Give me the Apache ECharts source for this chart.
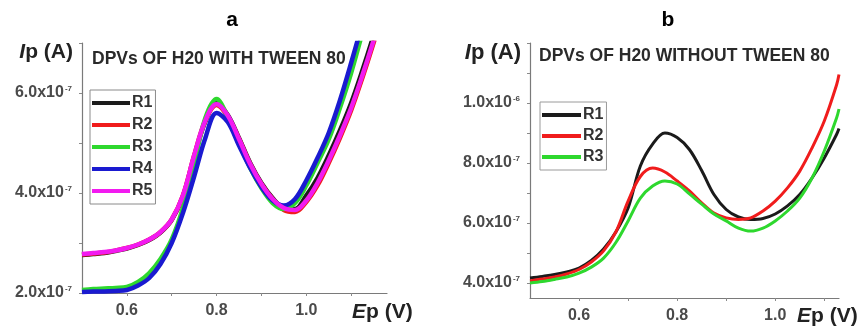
<!DOCTYPE html>
<html>
<head>
<meta charset="utf-8">
<script src="https://cdn.jsdelivr.net/npm/echarts@6/dist/echarts.min.js"></script>
<style>
html,body{margin:0;padding:0;background:#fff;}
#c{width:863px;height:327px;}
</style>
</head>
<body>
<div id="c"></div>
<script>
// ---------- Panel a: DPVs of H20 with Tween 80 (current in 1e-7 A) ----------
const xA = [0.5,0.525,0.55,0.575,0.6,0.625,0.65,0.675,0.7,0.725,0.75,0.775,0.8,0.825,0.85,0.875,0.9,0.925,0.95,0.975,1.0,1.025,1.05,1.075,1.1,1.125,1.15,1.175];
const aR1 = [2.76,2.78,2.80,2.84,2.89,2.96,3.06,3.21,3.46,3.93,4.72,5.43,5.80,5.56,5.10,4.60,4.20,3.90,3.70,3.68,3.95,4.30,4.75,5.25,5.80,6.45,7.15,7.90];
const aR2 = [2.77,2.79,2.81,2.85,2.90,2.97,3.07,3.22,3.47,3.95,4.75,5.45,5.76,5.53,5.08,4.58,4.18,3.88,3.66,3.62,3.82,4.15,4.60,5.10,5.65,6.30,7.00,7.75];
const aR3 = [2.06,2.08,2.09,2.10,2.12,2.22,2.40,2.68,3.07,3.70,4.58,5.50,5.88,5.52,5.00,4.50,4.10,3.80,3.68,3.80,4.15,4.60,5.07,5.70,6.40,7.20,8.00,8.90];
const aR4 = [2.02,2.03,2.03,2.04,2.06,2.15,2.30,2.58,3.00,3.60,4.33,5.10,5.60,5.42,4.95,4.50,4.12,3.85,3.75,3.88,4.25,4.70,5.20,5.85,6.60,7.40,8.30,9.20];
const aR5 = [2.78,2.80,2.82,2.85,2.90,2.97,3.07,3.22,3.47,3.95,4.75,5.45,5.78,5.55,5.08,4.58,4.18,3.88,3.70,3.66,3.85,4.20,4.65,5.15,5.70,6.35,7.05,7.80];
const namesA = ['R1','R2','R3','R4','R5'];

// ---------- Panel b: DPVs of H20 without Tween 80 (current in 1e-7 A) ----------
const xB = [0.5,0.525,0.55,0.575,0.6,0.625,0.65,0.675,0.7,0.725,0.75,0.775,0.8,0.825,0.85,0.875,0.9,0.925,0.95,0.975,1.0,1.025,1.05,1.075,1.1,1.125,1.13];
const bR1 = [4.17,4.22,4.28,4.37,4.50,4.75,5.13,5.70,6.50,7.90,8.63,9.00,8.85,8.45,7.75,6.95,6.45,6.20,6.12,6.15,6.30,6.57,6.95,7.50,8.17,8.95,9.15];
const bR2 = [4.07,4.13,4.20,4.30,4.45,4.70,5.07,5.70,6.73,7.55,7.83,7.70,7.40,7.07,6.67,6.33,6.17,6.12,6.17,6.40,6.73,7.17,7.73,8.50,9.40,10.60,10.95];
const bR3 = [4.00,4.05,4.12,4.20,4.33,4.53,4.83,5.35,6.07,6.83,7.23,7.40,7.30,6.97,6.63,6.30,6.07,5.83,5.73,5.83,6.07,6.40,6.83,7.50,8.40,9.50,9.80];
const namesB = ['R1','R2','R3'];

// ---------- Axis ticks and labels ----------
const xTickVals = [0.6,0.7,0.8,0.9,1.0,1.1];
const xLabelVals = [0.6,0.8,1.0];
const xLabelText = ['0.6','0.8','1.0'];
const yTickValsA = [2,3,4,5,6,7];
const yLabelValsA = [2,4,6];
const yLabelTextA = [['2.0x10','-7'],['4.0x10','-7'],['6.0x10','-7']];
const yTickValsB = [4,5,6,7,8,9,10,11,12];
const yLabelValsB = [4,6,8,10];
const yLabelTextB = [['4.0x10','-7'],['6.0x10','-7'],['8.0x10','-7'],['1.0x10','-6']];

const colorsA = ['#1b1b1b','#f01c1c','#2ed82e','#1a1ad0','#f21af0'];
const colorsB = ['#1b1b1b','#f01c1c','#2ed82e'];

const FONT = '"Liberation Sans", Arial, sans-serif';
const pair = (xs, ys) => xs.map((x, i) => [x, ys[i]]);

function yLabelFmt(vals, texts) {
  return function (v) {
    const i = vals.findIndex(t => Math.abs(t - v) < 1e-9);
    if (i < 0) return '';
    return '{m|' + texts[i][0] + '}{s|' + texts[i][1] + '}';
  };
}
function xLabelFmt(v) {
  const i = xLabelVals.findIndex(t => Math.abs(t - v) < 1e-9);
  return i < 0 ? '' : xLabelText[i];
}
const yRich = {
  m: {fontSize: 16, fontWeight: 'bold', color: '#4a4a4a', fontFamily: FONT},
  s: {fontSize: 8, fontWeight: 'bold', color: '#4a4a4a', fontFamily: FONT, verticalAlign: 'top', padding: [0,0,8,1]}
};
const axisLineStyle = {color: '#7a7a7a', width: 1.2};

function makeX(gridIndex, max, nameGap, padTop) {
  return {
    type: 'value', gridIndex, min: 0.5, max,
    name: '{i|E}{n|p (V)}', nameLocation: 'end', nameGap,
    nameTextStyle: {align: 'left', verticalAlign: 'top', padding: [padTop,0,0,0],
      rich: {i: {fontSize: 21, fontWeight: 'bold', fontStyle: 'italic', color: '#222', fontFamily: FONT},
             n: {fontSize: 21, fontWeight: 'bold', color: '#222', fontFamily: FONT}}},
    axisLine: {show: true, lineStyle: axisLineStyle},
    axisTick: {show: true, length: 3, customValues: xTickVals, lineStyle: {color: '#8a8a8a'}},
    axisLabel: {customValues: xLabelVals, formatter: xLabelFmt, margin: 10, fontSize: 16, fontWeight: 'bold', color: '#4a4a4a', fontFamily: FONT},
    splitLine: {show: false}
  };
}
function makeY(gridIndex, min, max, ticks, lvals, ltexts, nameGap, nameSize) {
  return {
    type: 'value', gridIndex, min, max,
    name: '{i|I}{n|p (A)}', nameLocation: 'end', nameGap,
    nameTextStyle: {align: 'right', verticalAlign: 'middle', padding: [0,9,0,0],
      rich: {i: {fontSize: nameSize, fontWeight: 'bold', fontStyle: 'italic', color: '#222', fontFamily: FONT},
             n: {fontSize: nameSize, fontWeight: 'bold', color: '#222', fontFamily: FONT}}},
    axisLine: {show: true, lineStyle: axisLineStyle},
    axisTick: {show: true, length: 3, customValues: ticks, lineStyle: {color: '#8a8a8a'}},
    axisLabel: {customValues: lvals, formatter: yLabelFmt(lvals, ltexts), margin: 10, rich: yRich},
    splitLine: {show: false}
  };
}

const seriesA = [aR1, aR2, aR3, aR4, aR5].map((d, i) => ({
  type: 'line', name: namesA[i], xAxisIndex: 0, yAxisIndex: 0,
  data: pair(xA, d), smooth: 0.35, showSymbol: false, symbol: 'none',
  lineStyle: {width: 4.5, color: colorsA[i]}, itemStyle: {color: colorsA[i]}, clip: true
}));
const seriesB = [bR1, bR2, bR3].map((d, i) => ({
  type: 'line', name: namesB[i], xAxisIndex: 1, yAxisIndex: 1,
  data: pair(xB, d), smooth: 0.35, showSymbol: false, symbol: 'none',
  lineStyle: {width: 3, color: colorsB[i]}, itemStyle: {color: colorsB[i]}, clip: true
}));

const chart = echarts.init(document.getElementById('c'), null, {renderer: 'canvas'});
chart.setOption({
  animation: false,
  backgroundColor: '#fff',
  title: [
    {text: 'a', left: 232, top: 10, padding: 0, textAlign: 'center', textStyle: {fontSize: 21, fontWeight: 'bold', color: '#000', fontFamily: FONT}},
    {text: 'b', left: 668, top: 10, padding: 0, textAlign: 'center', textStyle: {fontSize: 21, fontWeight: 'bold', color: '#000', fontFamily: FONT}},
    {text: 'DPVs OF H20 WITH TWEEN 80', left: 92, top: 50, padding: 0, textStyle: {fontSize: 17.5, fontWeight: 'bold', color: '#2a2a2a', fontFamily: FONT}},
    {text: 'DPVs OF H20 WITHOUT TWEEN 80', left: 539, top: 47, padding: 0, textStyle: {fontSize: 17.5, fontWeight: 'bold', color: '#2a2a2a', fontFamily: FONT}}
  ],
  legend: [
    {data: namesA, orient: 'vertical', left: 90, top: 90, icon: 'rect', itemWidth: 38, itemHeight: 4, itemGap: 6,
     padding: [5,3,5,2], borderColor: '#8a8a8a', borderWidth: 1, selectedMode: false,
     textStyle: {fontSize: 16, fontWeight: 'bold', color: '#333', fontFamily: FONT, padding: [0,0,0,-3]}},
    {data: namesB, orient: 'vertical', left: 540, top: 102, icon: 'rect', itemWidth: 39, itemHeight: 4, itemGap: 5,
     padding: [5,3,5,2], borderColor: '#9a9a9a', borderWidth: 1, selectedMode: false,
     textStyle: {fontSize: 16, fontWeight: 'bold', color: '#333', fontFamily: FONT, padding: [0,0,0,-3]}}
  ],
  grid: [
    {left: 82, top: 43, right: 476, bottom: 34},
    {left: 530, top: 43, right: 24, bottom: 29}
  ],
  xAxis: [makeX(0, 1.18, -35, 9), makeX(1, 1.13, -42, 8)],
  yAxis: [
    makeY(0, 2, 7, yTickValsA, yLabelValsA, yLabelTextA, -9, 21),
    makeY(1, 3.5, 12, yTickValsB, yLabelValsB, yLabelTextB, -10, 22)
  ],
  series: seriesA.concat(seriesB)
});
</script>
</body>
</html>
